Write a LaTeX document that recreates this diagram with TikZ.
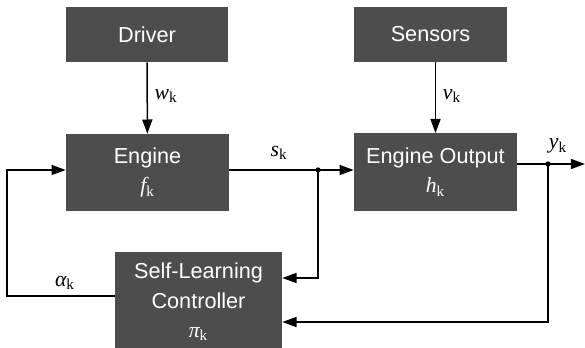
\documentclass[tikz,border=0pt]{standalone}
\usepackage{fontspec}
\setsansfont{Liberation Sans}
\newfontfamily\symfont{Liberation Serif}
\usetikzlibrary{arrows.meta,calc}
\definecolor{boxgray}{RGB}{77,77,77}
\newcommand{\var}[1]{{\symfont\itshape #1}\textsubscript{\symfont k}}
\begin{document}
\begin{tikzpicture}[x=0.6pt,y=-0.6pt,
    box/.style={fill=boxgray,text=white,inner sep=0pt,align=center,
        font=\sffamily\fontsize{13}{17.5}\selectfont},
    lbl/.style={inner sep=0pt,font=\fontsize{13}{15}\selectfont},
    arr/.style={line width=0.9pt,-{Triangle[length=8.5pt,width=6pt]}},
    wire/.style={line width=0.9pt},
    dot/.style={circle,fill=black,inner sep=0pt,minimum size=3.2pt}]
    \useasboundingbox (0,0) rectangle (585,348);
    % blocks
    \node[box,minimum width=97.2pt,minimum height=33pt] (driver) at (147,34.5) {Driver};
    \node[box,minimum width=91.8pt,minimum height=33pt] (sensors) at (430.5,34.5) {Sensors};
    \node[box,minimum width=97.8pt,minimum height=46.2pt] (engine) at (147.5,172.5) {Engine\\\var{f}};
    \node[box,minimum width=97.8pt,minimum height=46.2pt] (output) at (435.5,172) {Engine Output\\\var{h}};
    \node[box,minimum width=100.2pt,minimum height=60pt] (controller) at (198.5,302) {Self-Learning\\Controller\\\var{\textit{π}}};
    % junctions
    \coordinate (sj) at (318,170);
    \coordinate (yj) at (548,164);
    \coordinate (yend) at (585,164);
    \coordinate (lft) at (7,170);
    \node[dot] (sdot) at (sj) {};
    \node[dot] (ydot) at (yj) {};
    % signals
    \draw[arr] (driver) -- (engine);
    \draw[arr] (sensors.south -| output.north) -- (output.north);
    \draw[arr] (engine.east |- sj) -- (output.west |- sj);
    \draw[wire] (output.east |- yj) -- (yj);
    \draw[arr] (yj) -- (yend);
    \draw[arr] (sj) |- ($(controller.east)+(0,-24)$);
    \draw[arr] (yj) |- ($(controller.east)+(0,20)$);
    \draw[arr] ($(controller.west)+(0,-6)$) -| (lft) -- (engine.west |- lft);
    % labels
    \node[lbl] (wk) at (166,96) {\var{w}};
    \node[lbl] (vk) at (452,96) {\var{v}};
    \node[lbl] (sk) at (279,153) {\var{s}};
    \node[lbl] (yk) at (558,146) {\var{y}};
    \node[lbl] (ak) at (65,283) {\var{α}};
\end{tikzpicture}
\end{document}
